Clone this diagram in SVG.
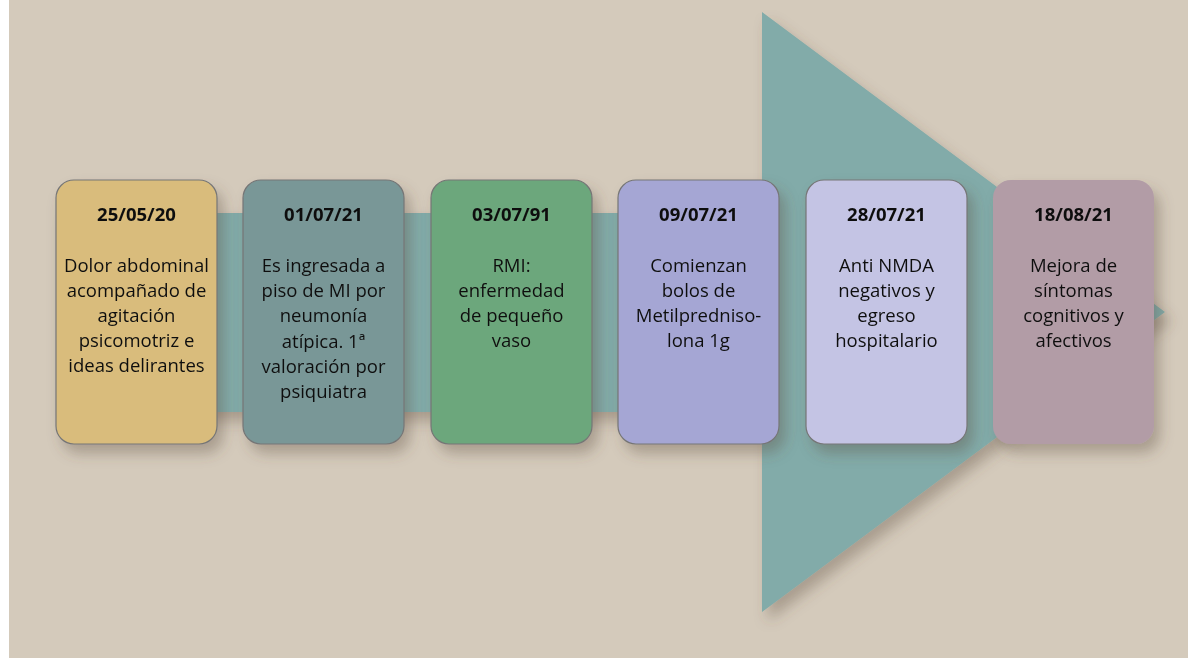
<svg xmlns="http://www.w3.org/2000/svg" width="1188" height="658" viewBox="0 0 1188 658">
<defs>
<filter id="sh" x="-20%" y="-20%" width="150%" height="150%">
<feDropShadow dx="6" dy="9" stdDeviation="7" flood-color="#5a4a3a" flood-opacity="0.35"/>
</filter>
</defs>
<style>
.box{stroke:#767676;stroke-width:1.2}
.date{font-family:"Open Sans","Liberation Sans",Arial,sans-serif;font-weight:bold;font-size:18.5px;fill:#111;text-anchor:middle}
.body{font-family:"Open Sans","Liberation Sans",Arial,sans-serif;font-size:18.5px;fill:#111;text-anchor:middle}
</style>
<rect x="0" y="0" width="1188" height="658" fill="#ffffff"/>
<rect x="9" y="0" width="1179" height="658" fill="#d4cabb"/>
<g id="connectors">
<polygon points="60,213 762,213 762,12 1165,312 762,612 762,412 60,412" fill="#82aba9" filter="url(#sh)"/>
</g>
<g id="n1" filter="url(#sh)">
<rect class="box" x="56" y="180" width="161" height="264" rx="18" fill="#d9bc7b"/>
<text class="date" x="136.5" y="221">25/05/20</text>
<text class="body" x="136.5" y="272">Dolor abdominal</text>
<text class="body" x="136.5" y="297">acompañado de</text>
<text class="body" x="136.5" y="322">agitación</text>
<text class="body" x="136.5" y="347">psicomotriz e</text>
<text class="body" x="136.5" y="372">ideas delirantes</text>
</g>
<g id="n2" filter="url(#sh)">
<rect class="box" x="243" y="180" width="161" height="264" rx="18" fill="#799797"/>
<text class="date" x="323.5" y="221">01/07/21</text>
<text class="body" x="323.5" y="272">Es ingresada a</text>
<text class="body" x="323.5" y="297">piso de MI por</text>
<text class="body" x="323.5" y="322">neumonía</text>
<text class="body" x="323.5" y="348">atípica. 1ª</text>
<text class="body" x="323.5" y="373">valoración por</text>
<text class="body" x="323.5" y="398">psiquiatra</text>
</g>
<g id="n3" filter="url(#sh)">
<rect class="box" x="431" y="180" width="161" height="264" rx="18" fill="#6ca77b"/>
<text class="date" x="511.5" y="221">03/07/91</text>
<text class="body" x="511.5" y="272">RMI:</text>
<text class="body" x="511.5" y="297">enfermedad</text>
<text class="body" x="511.5" y="322">de pequeño</text>
<text class="body" x="511.5" y="347">vaso</text>
</g>
<g id="n4" filter="url(#sh)">
<rect class="box" x="618" y="180" width="161" height="264" rx="18" fill="#a5a6d4"/>
<text class="date" x="698.5" y="221">09/07/21</text>
<text class="body" x="698.5" y="272">Comienzan</text>
<text class="body" x="698.5" y="297">bolos de</text>
<text class="body" x="698.5" y="322">Metilpredniso-</text>
<text class="body" x="698.5" y="347">lona 1g</text>
</g>
<g id="n5" filter="url(#sh)">
<rect class="box" x="806" y="180" width="161" height="264" rx="18" fill="#c4c4e4"/>
<text class="date" x="886.5" y="221">28/07/21</text>
<text class="body" x="886.5" y="272">Anti NMDA</text>
<text class="body" x="886.5" y="297">negativos y</text>
<text class="body" x="886.5" y="322">egreso</text>
<text class="body" x="886.5" y="347">hospitalario</text>
</g>
<g id="n6" filter="url(#sh)">
<rect x="993" y="180" width="161" height="264" rx="18" fill="#b29ca6"/>
<text class="date" x="1073.5" y="221">18/08/21</text>
<text class="body" x="1073.5" y="272">Mejora de</text>
<text class="body" x="1073.5" y="297">síntomas</text>
<text class="body" x="1073.5" y="322">cognitivos y</text>
<text class="body" x="1073.5" y="347">afectivos</text>
</g>
</svg>
